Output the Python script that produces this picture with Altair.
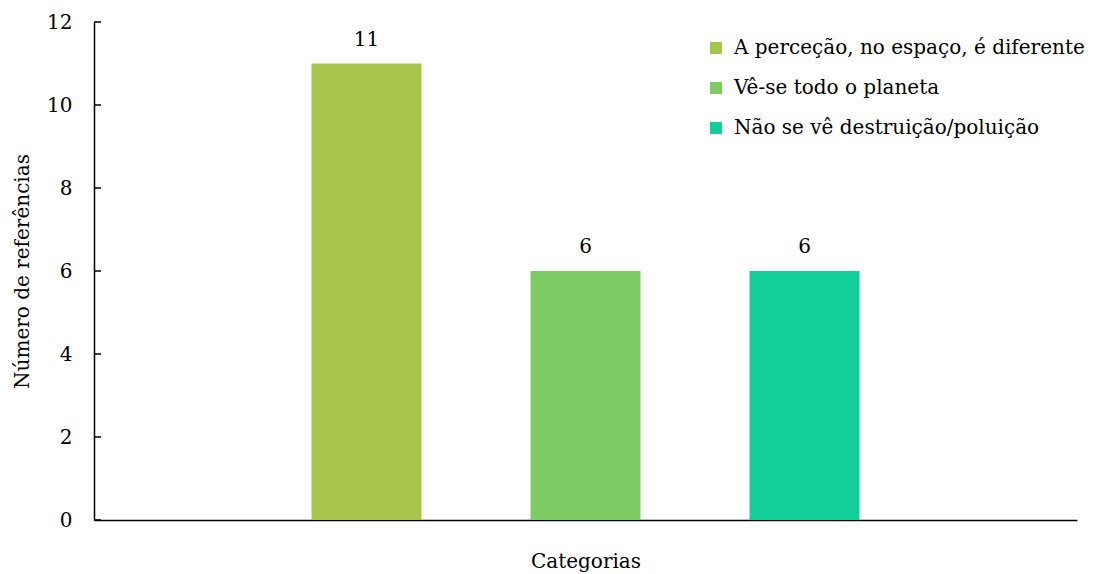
import altair as alt
import pandas as pd

series = ["A perceção, no espaço, é diferente", "Vê-se todo o planeta", "Não se vê destruição/poluição"]
values = [11, 6, 6]
colors = ["#A7C44B", "#7ECC66", "#12CF9A"]
y_ticks = [0, 2, 4, 6, 8, 10, 12]

df = pd.DataFrame({"serie": series, "valor": values})
ticks_df = pd.DataFrame({"t": y_ticks})

FONT = "DejaVu Serif"
FS = 20

xenc = alt.X("serie:N", sort=series,
             scale=alt.Scale(paddingInner=0.498, paddingOuter=0.993),
             axis=alt.Axis(title="Categorias", labels=False, ticks=False,
                           domainColor="black", domainWidth=1.5,
                           titleFont=FONT, titleFontSize=FS, titleFontWeight="normal",
                           titleColor="black", titlePadding=31))
yscale = alt.Scale(domain=[0, 12])

bars = alt.Chart(df).mark_bar().encode(
    x=xenc,
    y=alt.Y("valor:Q", scale=yscale,
            axis=alt.Axis(title="Número de referências", values=y_ticks, grid=False,
                          ticks=False, domainColor="black", domainWidth=1.5,
                          labelFont=FONT, labelFontSize=FS, labelColor="black",
                          labelPadding=22,
                          titleFont=FONT, titleFontSize=FS, titleFontWeight="normal",
                          titleColor="black", titlePadding=14)),
    color=alt.Color("serie:N", sort=series,
                    scale=alt.Scale(domain=series, range=colors),
                    legend=alt.Legend(title=None, orient="none", legendX=612, legendY=16,
                                      symbolType="square", symbolSize=144,
                                      symbolStrokeWidth=0, labelFont=FONT,
                                      labelFontSize=FS, labelColor="black",
                                      rowPadding=20, padding=0, labelLimit=500,
                                      labelOffset=8))
)

labels = alt.Chart(df).mark_text(font=FONT, fontSize=FS, color="black", dy=-14,
                                 baseline="bottom").encode(
    x=alt.X("serie:N", sort=series),
    y=alt.Y("valor:Q", scale=yscale),
    text="valor:Q"
)

tick_marks = alt.Chart(ticks_df).mark_rule(color="black", strokeWidth=1.5).encode(
    y=alt.Y("t:Q", scale=yscale),
    x=alt.value(0), x2=alt.value(7)
)

chart = alt.layer(bars, labels, tick_marks).properties(
    width=983, height=498,
    view=alt.ViewBackground(strokeWidth=0, stroke=None),
    autosize=alt.AutoSizeParams(type="none"),
    padding={"left": 86, "top": 14, "right": 10, "bottom": 52}
).configure_view(strokeWidth=0).configure(background="white", font=FONT)

chart.save("out.html", embed_options={"renderer": "svg", "actions": False})
